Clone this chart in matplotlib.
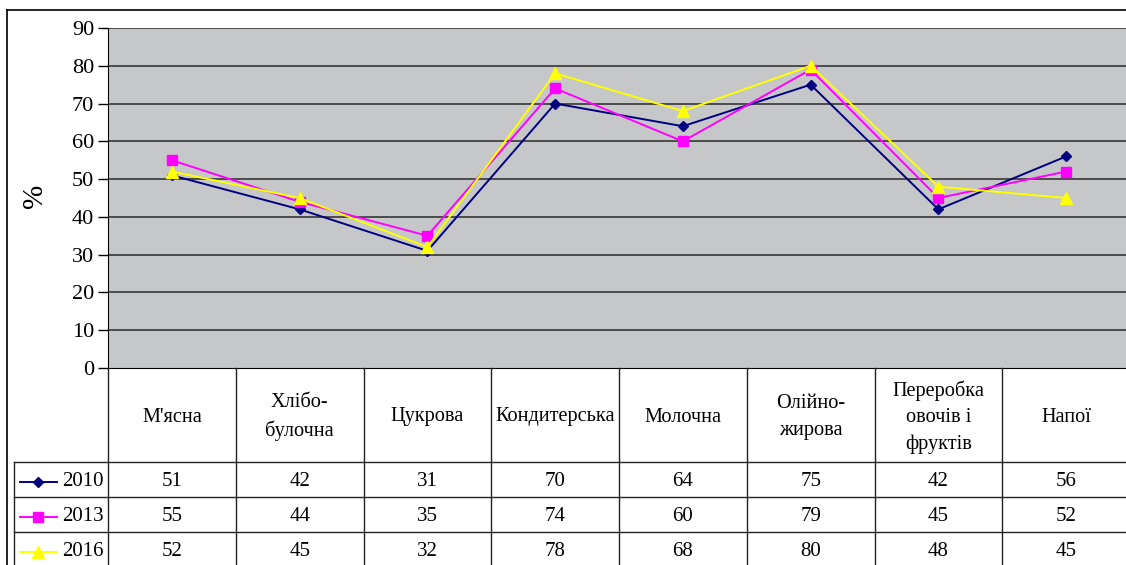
import matplotlib
matplotlib.use("Agg")
import matplotlib.pyplot as plt
from matplotlib.lines import Line2D

plt.rcParams['font.family'] = ['Liberation Serif', 'DejaVu Serif']

categories = ["М'ясна", "Хлібо-\nбулочна", "Цукрова", "Кондитерська", "Молочна",
              "Олійно-\nжирова", "Переробка\nовочів і\nфруктів", "Напої"]
series_names = ["2010", "2013", "2016"]
v2010 = [51, 42, 31, 70, 64, 75, 42, 56]
v2013 = [55, 44, 35, 74, 60, 79, 45, 52]
v2016 = [52, 45, 32, 78, 68, 80, 48, 45]
values = [v2010, v2013, v2016]
colors = ["#000080", "#FF00FF", "#FFFF00"]
markers = ["D", "s", "^"]
msizes = [5, 6.5, 8]
yticks = [0, 10, 20, 30, 40, 50, 60, 70, 80, 90]

W, H = 1126, 565
fig = plt.figure(figsize=(W / 100, H / 100), dpi=100)

def fx(px):
    return px / W

def fy(py):
    return 1 - py / H

# plot area geometry in pixels
x0, x1 = 108, 1130
ytop, ybot = 28, 368
ax = fig.add_axes([fx(x0), fy(ybot), fx(x1) - fx(x0), fy(ytop) - fy(ybot)])
ax.set_facecolor("#C6C7C9")
n = len(categories)
ax.set_xlim(-0.5, n - 0.5)
ax.set_ylim(0, 90)
ax.set_yticks(yticks)
ax.set_yticklabels([str(t) for t in yticks], fontsize=16)
ax.tick_params(axis='y', length=7, width=1, color='black', pad=3)
ax.set_xticks([])
for t in yticks[1:]:
    ax.axhline(t, color="#2a2a2a", lw=1.1, zorder=1)
for s in ["top", "right"]:
    ax.spines[s].set_visible(False)
ax.spines["left"].set_color("black")
ax.spines["bottom"].set_color("black")

fig.text(fx(35), fy(196), "%", rotation=90, ha="center", va="center", fontsize=21)

xs = list(range(n))
for vals, c, m, ms in zip(values, colors, markers, msizes):
    ax.plot(xs, vals, color=c, lw=1.4, marker=m, markersize=ms,
            markerfacecolor=c, markeredgecolor=c, zorder=3, clip_on=False)

# outer chart border
fig.add_artist(Line2D([fx(7), fx(7)], [fy(10), fy(H + 5)], color="black", lw=1.2))
fig.add_artist(Line2D([fx(7), fx(W + 5)], [fy(10), fy(10)], color="black", lw=1.2))

# data table
colw = (x1 - x0) / n
hdr_bot = 462
row_lines = [462, 497, 532]
row_h = 35
leg_left = 14
lc = "#222222"
for i in range(n + 1):
    xb = x0 + i * colw
    fig.add_artist(Line2D([fx(xb), fx(xb)], [fy(ybot), fy(H + 5)], color=lc, lw=1))
fig.add_artist(Line2D([fx(leg_left), fx(leg_left)], [fy(hdr_bot), fy(H + 5)], color=lc, lw=1))
for yl in row_lines:
    fig.add_artist(Line2D([fx(leg_left), fx(W + 5)], [fy(yl), fy(yl)], color=lc, lw=1))

# header text
for i, cat in enumerate(categories):
    xc = x0 + (i + 0.5) * colw
    fig.text(fx(xc), fy((ybot + hdr_bot) / 2 + 2), cat, ha="center", va="center",
             fontsize=14.6, linespacing=1.5)

# series rows
for r, (name, vals, c, m, ms) in enumerate(zip(series_names, values, colors, markers, msizes)):
    yc = hdr_bot + (r + 0.5) * row_h + 2
    fig.add_artist(Line2D([fx(20), fx(57)], [fy(yc), fy(yc)], color=c, lw=1.4))
    fig.add_artist(Line2D([fx(38.5)], [fy(yc)], color=c, lw=0, marker=m, markersize=ms,
                          markerfacecolor=c, markeredgecolor=c))
    fig.text(fx(62), fy(yc), name, ha="left", va="center", fontsize=15)
    for i, v in enumerate(vals):
        xc = x0 + (i + 0.5) * colw
        fig.text(fx(xc), fy(yc), str(v), ha="center", va="center", fontsize=15)

fig.savefig("out.png", dpi=100, facecolor="white")
